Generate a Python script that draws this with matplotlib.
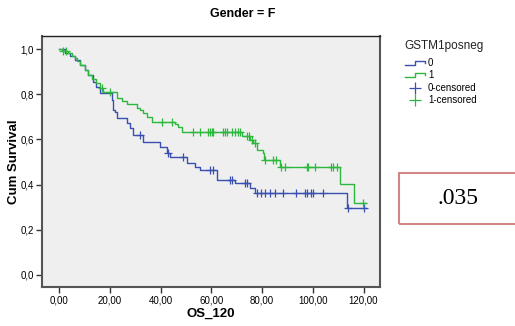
import numpy as np
import matplotlib
matplotlib.use("Agg")
import matplotlib.pyplot as plt
from matplotlib.lines import Line2D
from matplotlib.patches import Rectangle

plt.rcParams['font.family'] = ['Liberation Sans', 'DejaVu Sans']

# Kaplan-Meier steps (time, survival after the drop)
t0 = [0, 1.1, 2.2, 4.2, 6.2, 8.2, 10.1, 11.3, 13.3, 14.5, 16.1, 20.8, 21.2, 22.0,
      22.8, 26.7, 27.9, 29.1, 33.0, 39.7, 42.5, 43.7, 50.4, 53.5, 55.5, 62.2,
      69.3, 75.2, 77.2, 113.3, 121.0]
s0 = [1.0, 1.0, 0.981, 0.968, 0.950, 0.928, 0.906, 0.884, 0.853, 0.831, 0.804,
      0.773, 0.729, 0.720, 0.694, 0.672, 0.650, 0.619, 0.588, 0.566, 0.539,
      0.521, 0.495, 0.477, 0.464, 0.420, 0.407, 0.384, 0.362, 0.296, 0.296]
cens0 = [31.8, 42.9, 48.8, 59.4, 60.6, 67.3, 68.1, 73.2, 74.0, 78.1, 79.4, 81.1,
         83.1, 85.1, 88.1, 93.3, 96.9, 97.8, 99.2, 100.2, 104.1, 113.7, 120.0]

t1 = [0, 1.1, 3.4, 5.0, 6.2, 7.0, 8.2, 10.1, 11.3, 12.9, 14.5, 16.1, 17.2, 22.8,
      24.7, 26.7, 30.7, 31.8, 33.0, 34.6, 36.6, 45.6, 46.8, 48.4, 72.1, 75.2,
      76.4, 78.0, 80.4, 80.8, 87.1, 110.7, 116.4, 121.0]
s1 = [1.0, 0.990, 0.981, 0.968, 0.959, 0.946, 0.928, 0.906, 0.884, 0.866, 0.848,
      0.826, 0.809, 0.782, 0.769, 0.756, 0.738, 0.729, 0.716, 0.698, 0.676,
      0.667, 0.654, 0.632, 0.614, 0.597, 0.583, 0.552, 0.539, 0.508, 0.479,
      0.401, 0.319, 0.319]
cens1 = [1.5, 2.6, 16.7, 20.0, 40.5, 44.4, 52.7, 55.5, 58.7, 59.4, 60.2, 60.6,
         64.6, 65.4, 66.2, 68.1, 69.3, 70.5, 71.3, 74.0, 74.8, 76.0, 77.2, 81.0,
         84.3, 85.5, 87.5, 89.0, 97.6, 98.2, 100.9, 107.1, 108.1, 109.7, 119.9]

x_ticks = [0, 20, 40, 60, 80, 100, 120]
y_ticks = [0.0, 0.2, 0.4, 0.6, 0.8, 1.0]
p_value = ".035"

blue = "#3a50b0"
green = "#2db83d"

W, H = 515, 326
fig = plt.figure(figsize=(W / 100, H / 100), dpi=100)
ax = fig.add_axes([42 / W, 1 - 286.7 / H, (380 - 42) / W, (286.7 - 36) / H])
ax.set_facecolor("#efefef")


def surv_at(times, surv, t):
    idx = np.searchsorted(times, t, side="right") - 1
    return np.array(surv)[idx]


for times, surv, cens, c in [(t0, s0, cens0, blue), (t1, s1, cens1, green)]:
    ax.step(times, surv, where="post", color=c, lw=1.0)
    ax.plot(cens, surv_at(times, surv, cens), ls="none", marker="+",
            ms=6, mew=0.9, color=c)

ax.set_xlim(-6.8, 126.5)
ax.set_ylim(-0.052, 1.058)
ax.set_xticks(x_ticks)
ax.set_xticklabels([f"{v:.2f}".replace(".", ",") for v in x_ticks])
ax.set_yticks(y_ticks)
ax.set_yticklabels([f"{v:.1f}".replace(".", ",") for v in y_ticks])
ax.tick_params(labelsize=7, length=4, width=1, color="#333333", pad=2)

for side in ["left", "bottom", "right"]:
    ax.spines[side].set_color("#555555")
    ax.spines[side].set_linewidth(1.5)
ax.spines["top"].set_color("#222222")
ax.spines["top"].set_linewidth(1.0)

ax.set_xlabel("OS_120", fontsize=9.5, fontweight="bold")
ax.xaxis.set_label_coords(0.5, -0.083)
ax.set_ylabel("Cum Survival", fontsize=9.5, fontweight="bold")
ax.yaxis.set_label_coords(-0.065, 0.5)

fig.text(243 / W, 1 - 14 / H, "Gender = F", fontsize=9, fontweight="bold",
         ha="center", va="center")

# legend drawn by hand
fig.text(404 / W, 1 - 46 / H, "GSTM1posneg", fontsize=8.5, ha="left", va="center",
         color="#222222")
for yy, c, lab in [(63, blue, "0"), (75, green, "1")]:
    xs = np.array([405, 415, 415, 425, 425]) / W
    ys = 1 - np.array([yy + 2, yy + 2, yy - 2, yy - 2, yy]) / H
    fig.add_artist(Line2D(xs, ys, color=c, lw=1.0, transform=fig.transFigure))
    fig.text(428 / W, 1 - yy / H, lab, fontsize=7, ha="left", va="center")
for yy, c, lab in [(88, blue, "0-censored"), (100, green, "1-censored")]:
    fig.add_artist(Line2D([415 / W], [1 - yy / H], marker="+", ms=9, mew=0.9,
                          color=c, transform=fig.transFigure))
    fig.text(428 / W, 1 - yy / H, lab, fontsize=7, ha="left", va="center")

# p-value box
fig.add_artist(Rectangle((399 / W, 1 - 224 / H), 120 / W, 51 / H, fill=False,
                         ec="#d48585", lw=1.5, transform=fig.transFigure))
fig.text(458 / W, 1 - 199 / H, p_value, fontsize=17, family="Liberation Serif",
         ha="center", va="center")

fig.savefig("out.png", dpi=100)
